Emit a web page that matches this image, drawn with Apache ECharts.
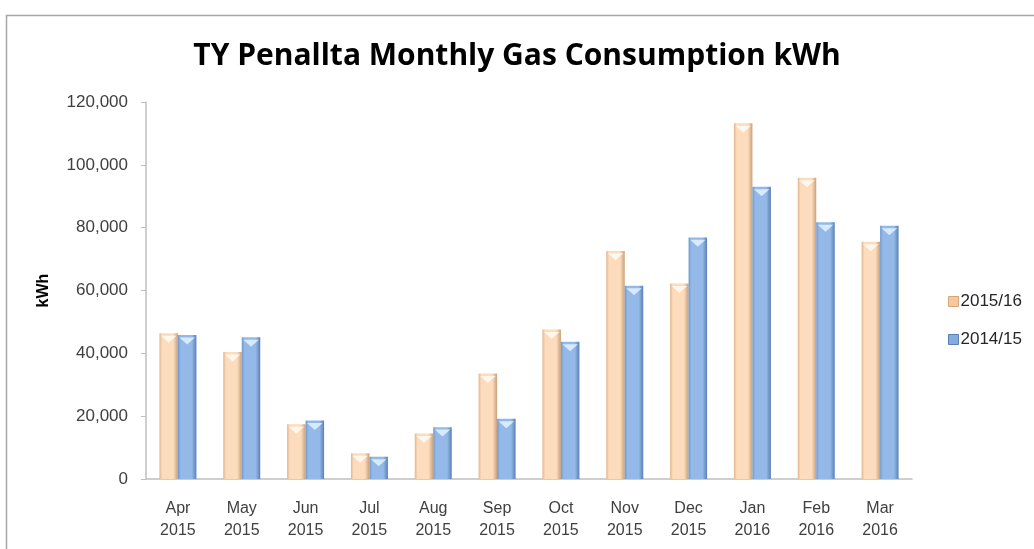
<!DOCTYPE html>
<html>
<head>
<meta charset="utf-8">
<script src="https://cdn.jsdelivr.net/npm/echarts@6/dist/echarts.min.js"></script>
<style>
	html, body { margin: 0; padding: 0; background: #fff; }
	#chart { width: 1034px; height: 549px; }
</style>
</head>
<body>
<div id="chart"></div>
<script>
// data
const months = ['Apr\n2015', 'May\n2015', 'Jun\n2015', 'Jul\n2015', 'Aug\n2015', 'Sep\n2015',
	'Oct\n2015', 'Nov\n2015', 'Dec\n2015', 'Jan\n2016', 'Feb\n2016', 'Mar\n2016']
const seriesNames = ['2015/16', '2014/15']
const gas1516 = [46400, 40400, 17400, 8200, 14500, 33600, 47600, 72600, 62200, 113200, 95900, 75500]
const gas1415 = [45800, 45100, 18600, 7100, 16500, 19200, 43700, 61500, 76900, 93000, 81700, 80600]

const font = 'Liberation Sans'
const barW = 18.5

// horizontal gradient so the bars look like excel's bevelled columns
const grad = (edgeL, mid, edgeR) => ({
	type: 'linear', x: 0, y: 0, x2: 1, y2: 0,
	colorStops: [
		{ offset: 0, color: edgeL },
		{ offset: 0.15, color: mid },
		{ offset: 0.75, color: mid },
		{ offset: 1, color: edgeR }
	]
})
const peach = grad('#E2B58C', '#FCDCBD', '#C9A07A')
const blue = grad('#6F98CF', '#94B9E8', '#5A80B8')

const makeBar = (name, data, color) => ({
	name: name,
	type: 'bar',
	data: data,
	barWidth: barW,
	barGap: '0%',
	itemStyle: { color: color },
	z: 2
})

// light triangle on the top of each bar (the bevel)
const makeCap = (name, data, color) => ({
	name: name,
	type: 'pictorialBar',
	data: data,
	barWidth: barW,
	barGap: '0%',
	symbol: 'triangle',
	symbolRotate: 180,
	symbolSize: [barW - 3, 7],
	symbolPosition: 'end',
	symbolOffset: [0, '35%'],
	itemStyle: { color: color },
	silent: true,
	z: 3
})

const chart = echarts.init(document.getElementById('chart'))
chart.setOption({
	animation: false,
	title: {
		text: 'TY Penallta Monthly Gas Consumption kWh',
		left: 'center',
		top: 36,
		textStyle: { fontFamily: 'Open Sans', fontSize: 30, fontWeight: 'bold', color: '#000' }
	},
	graphic: [{
		type: 'rect',
		left: 4, top: 13,
		shape: { width: 1100, height: 600 },
		style: { fill: 'none', stroke: '#A6A6A6', lineWidth: 1.5 },
		silent: true
	}],
	legend: {
		orient: 'vertical',
		left: 943,
		top: 288,
		icon: 'rect',
		itemWidth: 10,
		itemHeight: 10,
		itemGap: 21,
		data: [
			{ name: seriesNames[0], itemStyle: { color: '#F5C99F', borderColor: '#D6A67A', borderWidth: 1 } },
			{ name: seriesNames[1], itemStyle: { color: '#86ACDD', borderColor: '#5A80B8', borderWidth: 1 } }
		],
		textStyle: { fontFamily: font, fontSize: 17, color: '#262626', padding: [0, 0, 0, -3] }
	},
	grid: { left: 146, right: 122, top: 102, bottom: 70 },
	xAxis: {
		type: 'category',
		data: months,
		axisLine: { lineStyle: { color: '#BFBFBF', width: 1.5 } },
		axisTick: { show: false },
		axisLabel: { fontFamily: font, fontSize: 16, color: '#404040', lineHeight: 22, margin: 19 }
	},
	yAxis: {
		type: 'value',
		min: 0,
		max: 120000,
		interval: 20000,
		name: 'kWh',
		nameLocation: 'middle',
		nameGap: 94,
		nameRotate: 90,
		nameTextStyle: { fontFamily: font, fontSize: 16, fontWeight: 'bold', color: '#000' },
		axisLine: { show: true, lineStyle: { color: '#BFBFBF', width: 1.5 } },
		axisTick: { show: true, length: 5, lineStyle: { color: '#BFBFBF' } },
		splitLine: { show: false },
		axisLabel: {
			fontFamily: font, fontSize: 17, color: '#404040', margin: 18,
			formatter: v => v.toLocaleString('en-GB')
		}
	},
	series: [
		makeBar(seriesNames[0], gas1516, peach),
		makeBar(seriesNames[1], gas1415, blue),
		makeCap(seriesNames[0], gas1516, '#FFF6EC'),
		makeCap(seriesNames[1], gas1415, '#D6EBFF')
	]
})
</script>
</body>
</html>
